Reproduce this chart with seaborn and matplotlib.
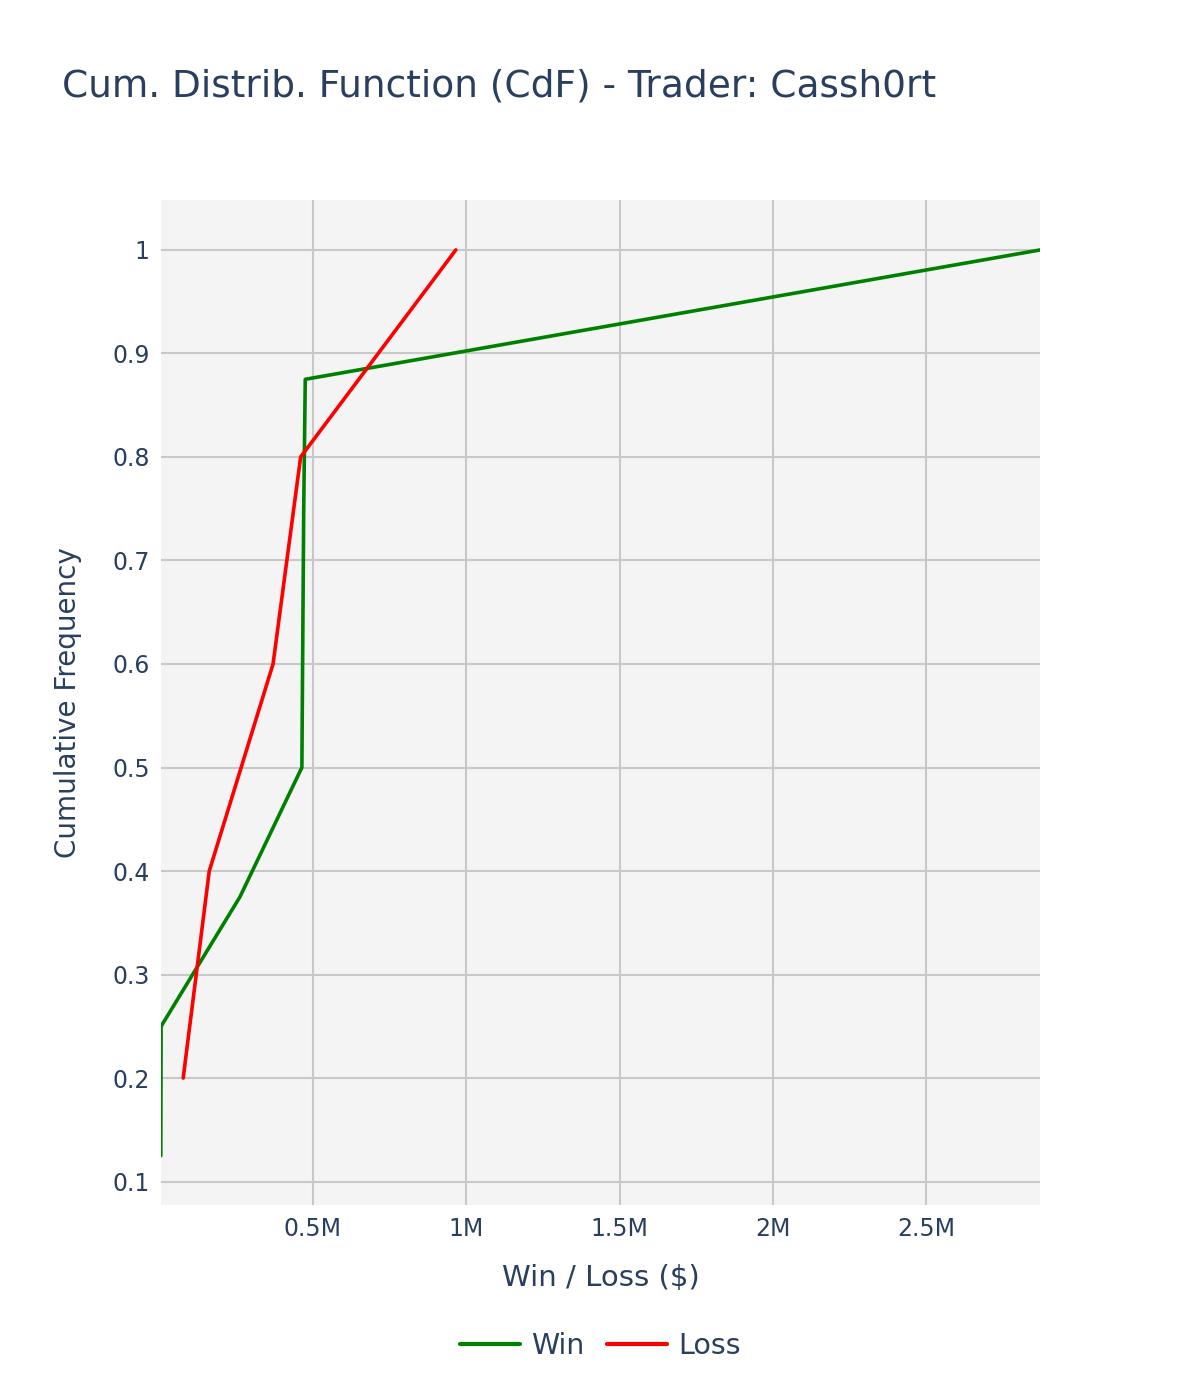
import pandas as pd
import matplotlib.pyplot as plt
import seaborn as sns
from matplotlib.ticker import FuncFormatter

# Values (x in $ millions)
win_x = [0.004, 0.005, 0.262, 0.464, 0.467, 0.470, 0.475, 2.872]
win_y = [0.125, 0.25, 0.375, 0.5, 0.625, 0.75, 0.875, 1.0]
loss_x = [0.077, 0.162, 0.370, 0.460, 0.966]
loss_y = [0.2, 0.4, 0.6, 0.8, 1.0]

x_ticks = [0.5, 1.0, 1.5, 2.0, 2.5]
y_ticks = [0.1, 0.2, 0.3, 0.4, 0.5, 0.6, 0.7, 0.8, 0.9, 1.0]

df = pd.concat([
    pd.DataFrame({'x': win_x, 'y': win_y, 'Series': 'Win'}),
    pd.DataFrame({'x': loss_x, 'y': loss_y, 'Series': 'Loss'}),
])

text_color = '#2a3f5f'
sns.set_theme(style='white')
plt.rcParams['font.family'] = ['DejaVu Sans']

fig = plt.figure(figsize=(12, 14), dpi=100)
ax = fig.add_axes([0.134, 0.139, 0.733, 0.718])
ax.set_facecolor('#f4f4f4')

sns.lineplot(data=df, x='x', y='y', hue='Series', palette={'Win': 'green', 'Loss': 'red'},
             sort=False, estimator=None, linewidth=2.6, ax=ax)

ax.set_xlim(0.004, 2.872)
ax.set_ylim(0.077, 1.048)
ax.set_xticks(x_ticks)
ax.set_yticks(y_ticks)
ax.xaxis.set_major_formatter(FuncFormatter(lambda v, p: f'{v:g}M'))
ax.yaxis.set_major_formatter(FuncFormatter(lambda v, p: f'{v:g}'))
ax.grid(True, color='#c8c8c8', linewidth=1.5)
ax.set_axisbelow(True)
for s in ax.spines.values():
    s.set_visible(False)
ax.tick_params(axis='both', length=0, labelsize=17, colors=text_color, pad=8)

ax.set_xlabel('Win / Loss ($)', fontsize=21, color=text_color, labelpad=17)
ax.set_ylabel('Cumulative Frequency', fontsize=20, color=text_color, labelpad=22)

fig.text(0.052, 0.938, 'Cum. Distrib. Function (CdF) - Trader: Cassh0rt',
         fontsize=27, color=text_color, va='center', ha='left')

leg = ax.legend(loc='center', bbox_to_anchor=(0.5, -0.14), ncol=2, frameon=False,
                fontsize=20.5, handlelength=2.1, columnspacing=0.8, handletextpad=0.4)
for t in leg.get_texts():
    t.set_color(text_color)
for line in leg.get_lines():
    line.set_linewidth(3)

fig.savefig('out.png', dpi=100, facecolor='white')
